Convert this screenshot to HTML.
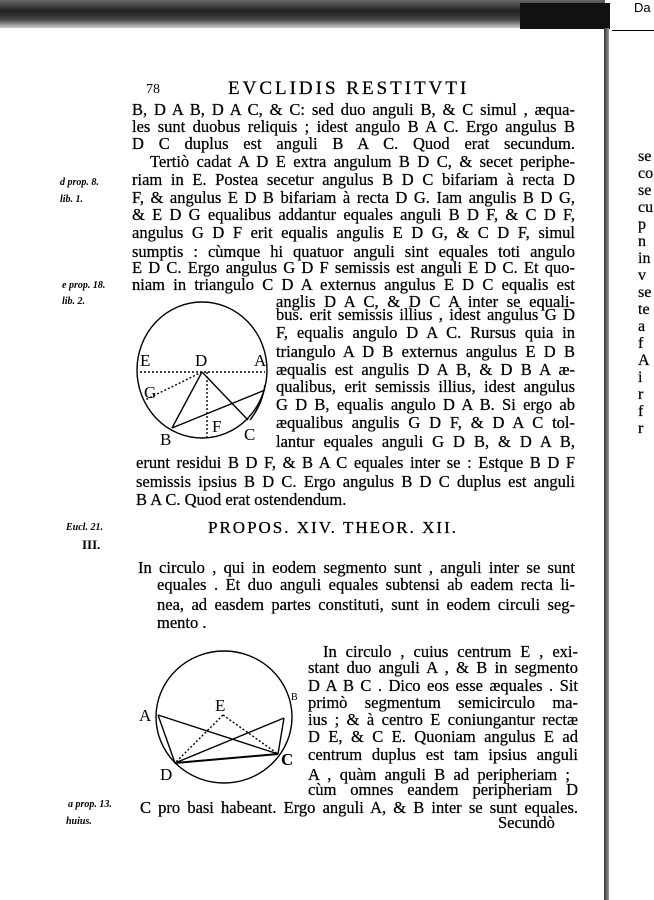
<!DOCTYPE html>
<html><head><meta charset="utf-8"><style>
body{margin:0;width:654px;height:900px;background:#fff;position:relative;overflow:hidden;font-family:"Liberation Serif",serif;color:#000}
.l{position:absolute;white-space:nowrap;font-size:16.5px;line-height:18px;text-align:justify;text-align-last:justify;overflow:visible;-webkit-text-stroke:0.25px #000}
.m{position:absolute;font-size:10px;font-weight:bold;font-style:italic;white-space:nowrap}
.r{position:absolute;left:638px;font-size:16px;line-height:17px;-webkit-text-stroke:0.25px #000}
svg{position:absolute;left:0;top:0}
</style></head><body>
<div style="position:absolute;left:0;top:0;width:605px;height:28px;background:linear-gradient(#666,#222 40%,#444 70%,#ccc)"></div>
<div style="position:absolute;left:520px;top:3px;width:90px;height:26px;background:#111"></div>
<div style="position:absolute;left:612px;top:0;width:42px;height:30px;background:#fff;border-bottom:1px solid #000"></div>
<div style="position:absolute;left:634px;top:0;font-family:'Liberation Sans',sans-serif;font-size:13px">Da</div>
<div style="position:absolute;left:604px;top:28px;width:5px;height:872px;background:linear-gradient(90deg,#333,#999)"></div>

<div style="position:absolute;left:146px;top:82px;font-size:14px">78</div>
<div style="position:absolute;left:228px;top:78px;font-size:19px;letter-spacing:3px;-webkit-text-stroke:0.25px #000">EVCLIDIS RESTITVTI</div>

<div class="l" style="left:132px;top:101px;width:443px">B, D A B, D A C, &amp; C: sed duo anguli B, &amp; C simul , æqua-</div>
<div class="l" style="left:132px;top:118px;width:443px">les sunt duobus reliquis ; idest angulo B A C. Ergo angulus B</div>
<div class="l" style="left:132px;top:135px;width:443px">D C duplus est anguli B A C. Quod erat secundum.</div>
<div class="l" style="left:150px;top:153px;width:425px">Tertiò cadat A D E extra angulum B D C, &amp; secet periphe-</div>
<div class="l" style="left:132px;top:171px;width:443px">riam in E. Postea secetur angulus B D C bifariam à recta D</div>
<div class="l" style="left:132px;top:189px;width:443px">F, &amp; angulus E D B bifariam à recta D G. Iam angulis B D G,</div>
<div class="l" style="left:132px;top:206px;width:443px">&amp; E D G equalibus addantur equales anguli B D F, &amp; C D F,</div>
<div class="l" style="left:132px;top:224px;width:443px">angulus G D F erit equalis angulis E D G, &amp; C D F, simul</div>
<div class="l" style="left:132px;top:243px;width:443px">sumptis : cùmque hi quatuor anguli sint equales toti angulo</div>
<div class="l" style="left:132px;top:259px;width:443px">E D C. Ergo angulus G D F semissis est anguli E D C. Et quo-</div>
<div class="l" style="left:132px;top:276px;width:443px">niam in triangulo C D A externus angulus E D C equalis est</div>
<div class="l" style="left:276px;top:293px;width:299px">anglis D A C, &amp; D C A inter se equali-</div>
<div class="l" style="left:276px;top:306px;width:299px">bus. erit semissis illius , idest angulus G D</div>
<div class="l" style="left:276px;top:324px;width:299px">F, equalis angulo D A C. Rursus quia in</div>
<div class="l" style="left:276px;top:343px;width:299px">triangulo A D B externus angulus E D B</div>
<div class="l" style="left:276px;top:361px;width:299px">æqualis est angulis D A B, &amp; D B A æ-</div>
<div class="l" style="left:276px;top:378px;width:299px">qualibus, erit semissis illius, idest angulus</div>
<div class="l" style="left:276px;top:396px;width:299px">G D B, equalis angulo D A B. Si ergo ab</div>
<div class="l" style="left:276px;top:414px;width:299px">æqualibus angulis G D F, &amp; D A C tol-</div>
<div class="l" style="left:276px;top:433px;width:299px">lantur equales anguli G D B, &amp; D A B,</div>
<div class="l" style="left:136px;top:454px;width:439px">erunt residui B D F, &amp; B A C equales inter se : Estque B D F</div>
<div class="l" style="left:136px;top:473px;width:439px">semissis ipsius B D C. Ergo angulus B D C duplus est anguli</div>
<div class="l" style="left:136px;top:491px;width:240px;text-align-last:left">B A C. Quod erat ostendendum.</div>
<div style="position:absolute;left:208px;top:518px;font-size:17px;letter-spacing:2px;-webkit-text-stroke:0.25px #000">PROPOS. XIV. THEOR. XII.</div>
<div class="l" style="left:138px;top:559px;width:437px">In circulo , qui in eodem segmento sunt , anguli inter se sunt</div>
<div class="l" style="left:157px;top:576px;width:418px">equales . Et duo anguli equales subtensi ab eadem recta li-</div>
<div class="l" style="left:157px;top:596px;width:418px">nea, ad easdem partes constituti, sunt in eodem circuli seg-</div>
<div class="l" style="left:157px;top:614px;width:80px;text-align-last:left">mento .</div>
<div class="l" style="left:323px;top:643px;width:255px">In circulo , cuius centrum E , exi-</div>
<div class="l" style="left:308px;top:659px;width:270px">stant duo anguli A , &amp; B in segmento</div>
<div class="l" style="left:308px;top:677px;width:270px">D A B C . Dico eos esse æquales . Sit</div>
<div class="l" style="left:308px;top:694px;width:270px">primò segmentum semicirculo ma-</div>
<div class="l" style="left:308px;top:711px;width:270px">ius ; &amp; à centro E coniungantur rectæ</div>
<div class="l" style="left:308px;top:728px;width:270px">D E, &amp; C E. Quoniam angulus E ad</div>
<div class="l" style="left:308px;top:746px;width:270px">centrum duplus est tam ipsius anguli</div>
<div class="l" style="left:308px;top:766px;width:262px">A , quàm anguli B ad peripheriam ;</div>
<div class="l" style="left:308px;top:781px;width:270px">cùm omnes eandem peripheriam D</div>
<div class="l" style="left:140px;top:799px;width:438px">C pro basi habeant. Ergo anguli A, &amp; B inter se sunt equales.</div>
<div style="position:absolute;left:498px;top:813px;font-size:16.5px;-webkit-text-stroke:0.25px #000">Secundò</div>

<div class="m" style="left:60px;top:177px">d prop. 8.</div>
<div class="m" style="left:60px;top:194px">lib. 1.</div>
<div class="m" style="left:62px;top:280px">e prop. 18.</div>
<div class="m" style="left:62px;top:296px">lib. 2.</div>
<div class="m" style="left:66px;top:522px">Eucl. 21.</div>
<div class="m" style="left:82px;top:537px;font-size:13px;font-style:normal">III.</div>
<div class="m" style="left:68px;top:799px">a prop. 13.</div>
<div class="m" style="left:66px;top:816px">huius.</div>

<div class="r" style="top:148px">se<br>co<br>se<br>cu<br>p<br>n<br>in<br>v<br>se<br>te</div>
<div class="r" style="top:318px">a<br>f<br>A<br>i<br>r<br>f<br>r</div>

<svg width="654" height="900" viewBox="0 0 654 900">
<g fill="none" stroke="#000" stroke-width="1.4">
<ellipse cx="202" cy="370" rx="65" ry="68"/>
<line x1="202" y1="372" x2="172" y2="428"/>
<line x1="202" y1="372" x2="248" y2="420"/>
<line x1="172" y1="428" x2="265" y2="390"/>
<path d="M265 385 Q262 405 250 420"/>
<g stroke-dasharray="2,2"><line x1="140" y1="372" x2="265" y2="372"/><line x1="202" y1="372" x2="145" y2="400"/><line x1="207" y1="372" x2="207" y2="437"/></g>
<ellipse cx="224" cy="717" rx="68" ry="66"/>
<line x1="158" y1="715" x2="278" y2="754"/>
<line x1="158" y1="715" x2="175" y2="763"/>
<line x1="175" y1="763" x2="284" y2="718"/>
<line x1="175" y1="763" x2="278" y2="754" stroke-width="2"/>
<line x1="284" y1="718" x2="278" y2="754"/>
<g stroke-dasharray="2,2"><line x1="223" y1="715" x2="175" y2="763"/><line x1="223" y1="715" x2="278" y2="754"/></g>
</g>
<g font-family="Liberation Serif" font-size="17">
<text x="140" y="366">E</text><text x="195" y="366">D</text><text x="254" y="366">A</text>
<text x="144" y="398">G</text><text x="160" y="445">B</text><text x="212" y="432">F</text><text x="244" y="440">C</text>
<text x="139" y="721">A</text><text x="215" y="711">E</text><text x="160" y="780">D</text><text x="281" y="765" font-weight="bold">C</text>
<text x="291" y="700" font-size="10">B</text>
</g>
</svg>
</body></html>
